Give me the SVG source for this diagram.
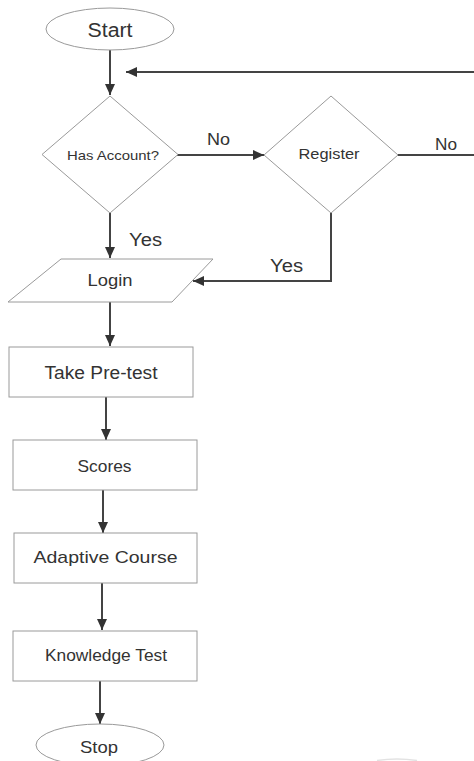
<svg xmlns="http://www.w3.org/2000/svg" width="474" height="761" viewBox="0 0 474 761">
<style>
.shape{fill:#fff;stroke:#9a9a9a;stroke-width:1}
.conn{fill:none;stroke:#444;stroke-width:2}
.lbl{font-family:"Liberation Sans",Arial,sans-serif;fill:#333;text-anchor:middle}
</style>
<defs>
<marker id="arr" viewBox="0 0 11 10" refX="11" refY="5" markerWidth="11" markerHeight="10" markerUnits="userSpaceOnUse" orient="auto">
<path d="M0,0 L11,5 L0,10 z" fill="#333"/>
</marker>
</defs>
<rect width="474" height="761" fill="#fff"/>
<g id="connectors">
<path class="conn" d="M110,50 V95" marker-end="url(#arr)"/>
<path class="conn" d="M474,72 H126" marker-end="url(#arr)"/>
<path class="conn" d="M177,155 H264" marker-end="url(#arr)"/>
<path class="conn" d="M398,155 H474"/>
<path class="conn" d="M110,213 V258" marker-end="url(#arr)"/>
<path class="conn" d="M331,213 V281 H193" marker-end="url(#arr)"/>
<path class="conn" d="M110,302 V346" marker-end="url(#arr)"/>
<path class="conn" d="M106,397 V440" marker-end="url(#arr)"/>
<path class="conn" d="M103,490 V533" marker-end="url(#arr)"/>
<path class="conn" d="M102,583 V630" marker-end="url(#arr)"/>
<path class="conn" d="M100,681 V724" marker-end="url(#arr)"/>
<text class="lbl" x="218.5" y="145" font-size="16" textLength="23" lengthAdjust="spacingAndGlyphs">No</text>
<text class="lbl" x="446" y="150" font-size="16" textLength="22" lengthAdjust="spacingAndGlyphs">No</text>
<text class="lbl" x="145.5" y="246" font-size="18" textLength="33" lengthAdjust="spacingAndGlyphs">Yes</text>
<text class="lbl" x="286.5" y="272" font-size="18" textLength="33" lengthAdjust="spacingAndGlyphs">Yes</text>
</g>
<g id="start">
<ellipse class="shape" cx="110" cy="29" rx="64" ry="21"/>
<text class="lbl" x="110" y="37" font-size="19.5" textLength="45" lengthAdjust="spacingAndGlyphs">Start</text>
</g>
<g id="has-account">
<polygon class="shape" points="110,96 178,154.5 110,213 42,154.5"/>
<text class="lbl" x="113" y="160" font-size="13" textLength="92" lengthAdjust="spacingAndGlyphs">Has Account?</text>
</g>
<g id="register">
<polygon class="shape" points="331,96 398,155 331,213 264,155"/>
<text class="lbl" x="329" y="159" font-size="15.5" textLength="61" lengthAdjust="spacingAndGlyphs">Register</text>
</g>
<g id="login">
<polygon class="shape" points="61,259 213,259 172,302 8,302"/>
<text class="lbl" x="110" y="286" font-size="17" textLength="45" lengthAdjust="spacingAndGlyphs">Login</text>
</g>
<g id="take-pretest">
<rect class="shape" x="9" y="347" width="184" height="50"/>
<text class="lbl" x="101" y="379" font-size="17.5" textLength="113" lengthAdjust="spacingAndGlyphs">Take Pre-test</text>
</g>
<g id="scores">
<rect class="shape" x="13" y="440" width="184" height="50"/>
<text class="lbl" x="104.5" y="472" font-size="17" textLength="54" lengthAdjust="spacingAndGlyphs">Scores</text>
</g>
<g id="adaptive-course">
<rect class="shape" x="14" y="533" width="183" height="50"/>
<text class="lbl" x="105.5" y="563" font-size="17" textLength="144" lengthAdjust="spacingAndGlyphs">Adaptive Course</text>
</g>
<g id="knowledge-test">
<rect class="shape" x="13" y="631" width="184" height="50"/>
<text class="lbl" x="106" y="661" font-size="16" textLength="122" lengthAdjust="spacingAndGlyphs">Knowledge Test</text>
</g>
<g id="stop">
<ellipse class="shape" cx="100" cy="745" rx="64" ry="21"/>
<text class="lbl" x="99" y="753" font-size="17" textLength="38" lengthAdjust="spacingAndGlyphs">Stop</text>
</g>
<path d="M377,760.5 Q397,757.5 417,760.5" fill="none" stroke="#e2e2e2" stroke-width="1.5"/>
</svg>
